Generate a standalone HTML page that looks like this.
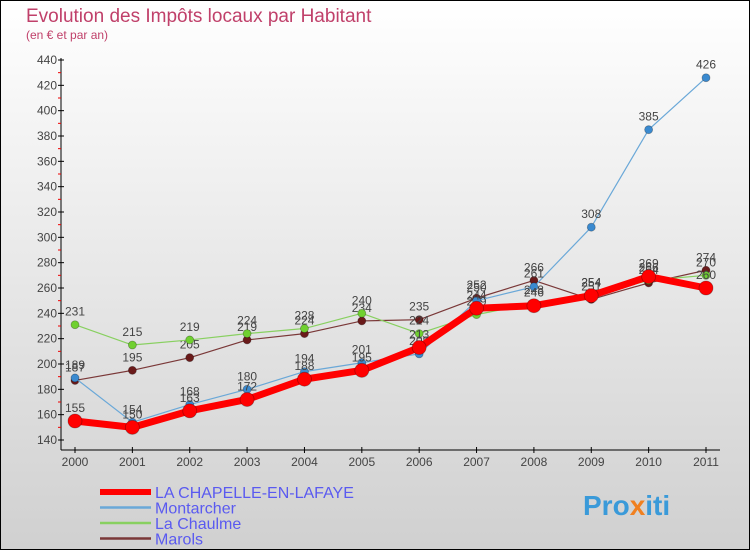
<!DOCTYPE html>
<html><head><meta charset="utf-8"><style>
body{margin:0;width:750px;height:550px;overflow:hidden;font-family:"Liberation Sans",sans-serif}
</style></head><body>
<svg width="750" height="550" viewBox="0 0 750 550" xmlns="http://www.w3.org/2000/svg">
<defs><linearGradient id="bg" x1="0" y1="0" x2="0" y2="1"><stop offset="0" stop-color="#ffffff"/><stop offset="1" stop-color="#d0d0d0"/></linearGradient></defs>
<rect x="0.5" y="0.5" width="749" height="549" fill="url(#bg)" stroke="#000"/>
<text x="26" y="22" font-size="19" fill="#c0406a">Evolution des Impôts locaux par Habitant</text>
<text x="26" y="39" font-size="12" fill="#c0406a">(en € et par an)</text>
<g id="axes"></g><g id="series"></g><g id="legend"></g>
<text x="583" y="515" font-size="28" font-weight="bold" fill="#3a9ad9">Pro<tspan fill="#f08020">x</tspan>iti</text>
</svg>
<script>
const years=[2000,2001,2002,2003,2004,2005,2006,2007,2008,2009,2010,2011];
const yTicks=[140,160,180,200,220,240,260,280,300,320,340,360,380,400,420,440];
const chapelle=[155,150,163,172,188,195,213,244,246,254,269,260];
const montarcher=[189,154,168,180,194,201,208,250,261,308,385,426];
const chaulme=[231,215,219,224,228,240,224,239,248,254,266,270];
const marols=[187,195,205,219,224,234,235,252,266,251,264,274];
const NS='http://www.w3.org/2000/svg';
const xs=i=>75+i*(706-75)/11;
const ys=v=>440-(v-140)*380/300;
function mk(t,a,p){const e=document.createElementNS(NS,t);for(const k in a)e.setAttribute(k,a[k]);p.appendChild(e);return e;}
const ax=document.getElementById('axes');
let l=mk('line',{x1:61,y1:58,x2:61,y2:450,stroke:'#000'},ax);


l=mk('line',{x1:61,y1:450,x2:720,y2:450,stroke:'#000'},ax);


yTicks.forEach((v,i)=>{
 const y=ys(v);
 mk('line',{x1:58,y1:y,x2:64,y2:y,stroke:'#000'},ax);
 if(i<yTicks.length-1) mk('line',{x1:58,y1:y-12.67,x2:61,y2:y-12.67,stroke:'#e00'},ax);
 const t=mk('text',{x:57,y:y+4,'font-size':12,'text-anchor':'end',fill:'#444'},ax);
 t.textContent=v;
 
 
});
years.forEach((yr,i)=>{
 const x=xs(i);
 mk('line',{x1:x,y1:447,x2:x,y2:453,stroke:'#000'},ax);
 const t=mk('text',{x:x,y:466,'font-size':12,'text-anchor':'middle',fill:'#444'},ax);
 t.textContent=yr;
 
 
});
const series=[
 {name:'Marols',data:marols,color:'#7a3838',dot:'#6a1a1a',w:1.2,r:4},
 {name:'La Chaulme',data:chaulme,color:'#88d060',dot:'#70d030',w:1.2,r:4},
 {name:'Montarcher',data:montarcher,color:'#6aa8d8',dot:'#3a8ad0',w:1.2,r:4},
 {name:'LA CHAPELLE-EN-LAFAYE',data:chapelle,color:'#ff0000',dot:'#ff0000',w:7,r:7}
];
const sg=document.getElementById('series');
series.forEach(s=>{
 const g=mk('g',{},sg);
 
 
 const p=mk('polyline',{points:s.data.map((v,i)=>xs(i)+','+ys(v)).join(' '),fill:'none',stroke:s.color,'stroke-width':s.w,'stroke-linejoin':'round'},g);
 
 
 s.data.forEach((v,i)=>{
  const c=mk('circle',{cx:xs(i),cy:ys(v),r:s.r,fill:s.dot,stroke:'rgba(0,0,0,0.3)','stroke-width':0.8},g);
  
  
  const t=mk('text',{x:xs(i),y:ys(v)-9,'font-size':12,'text-anchor':'middle',fill:'#444'},g);
  t.textContent=v;
  
  
 });
});
const lg=document.getElementById('legend');
const leg=[series[3],series[2],series[1],series[0]];
leg.forEach((s,i)=>{
 const y=492+i*15.5;
 const g=mk('g',{},lg);
 
 
 mk('line',{x1:100,y1:y,x2:151,y2:y,stroke:s.color,'stroke-width':i==0?6:2.5},g);
 const t=mk('text',{x:155,y:y+6,'font-size':16,fill:'#5a5af0'},g);
 t.textContent=s.name;
});
</script>
</body></html>
